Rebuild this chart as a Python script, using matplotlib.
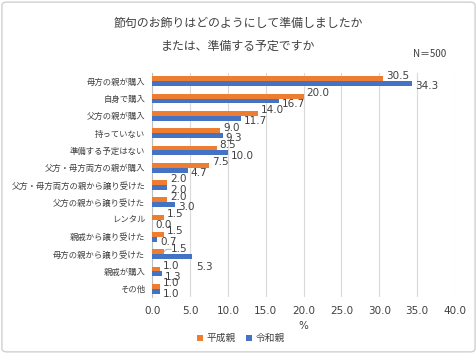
import matplotlib
matplotlib.use("Agg")
import matplotlib.pyplot as plt
import numpy as np
from matplotlib.patches import FancyBboxPatch

plt.rcParams["font.family"] = ["Noto Sans CJK JP", "DejaVu Sans"]

categories = [
    "母方の親が購入",
    "自身で購入",
    "父方の親が購入",
    "持っていない",
    "準備する予定はない",
    "父方・母方両方の親が購入",
    "父方・母方両方の親から譲り受けた",
    "父方の親から譲り受けた",
    "レンタル",
    "親戚から譲り受けた",
    "母方の親から譲り受けた",
    "親戚が購入",
    "その他",
]
heisei = [30.5, 20.0, 14.0, 9.0, 8.5, 7.5, 2.0, 2.0, 1.5, 1.5, 1.5, 1.0, 1.0]
reiwa = [34.3, 16.7, 11.7, 9.3, 10.0, 4.7, 2.0, 3.0, 0.0, 0.7, 5.3, 1.3, 1.0]
series_names = ["平成親", "令和親"]
x_ticks = [0, 5, 10, 15, 20, 25, 30, 35, 40]

ORANGE = "#ED7D31"
BLUE = "#4472C4"
TXT = "#404040"

fig = plt.figure(figsize=(4.77, 3.54), dpi=100)
fig.patches.append(FancyBboxPatch((0.004, 0.006), 0.992, 0.988, boxstyle="round,pad=0,rounding_size=0.01",
                                  transform=fig.transFigure, fill=False, edgecolor="#d0d0d0", linewidth=1))
ax = fig.add_axes([0.319, 0.16, 0.635, 0.635])

y = np.arange(len(categories))
h = 0.28
ax.barh(y - h / 2, heisei, height=h, color=ORANGE, label=series_names[0], zorder=3)
ax.barh(y + h / 2, reiwa, height=h, color=BLUE, label=series_names[1], zorder=3)

lab = dict(fontsize=7.5, color=TXT, family="DejaVu Sans", zorder=4, ha="left", va="center")
for i, (a, b) in enumerate(zip(heisei, reiwa)):
    if i == 10:
        # label moved right with a short leader line, blue label pushed below
        ax.text(a + 1.0, i - 0.28, f"{a:.1f}", **lab)
        ax.plot([a, a + 0.4, a + 1.0], [i - 0.12, i - 0.28, i - 0.28], color="#a6a6a6", lw=0.6, zorder=4)
        ax.text(b + 0.5, i + 0.75, f"{b:.1f}", **lab)
    else:
        ax.text(a + 0.4, i - 0.32, f"{a:.1f}", **lab)
        ax.text(b + 0.4, i + 0.3, f"{b:.1f}", **lab)

ax.set_ylim(len(categories) - 0.5, -0.5)
ax.set_xlim(0, 40)
ax.set_xticks(x_ticks)
ax.set_xticklabels([f"{v:.1f}" for v in x_ticks], family="DejaVu Sans")
ax.set_yticks(y)
ax.set_yticklabels(categories)
ax.tick_params(axis="y", length=0, labelsize=6, labelcolor=TXT, pad=5)
ax.tick_params(axis="x", length=0, labelsize=7.5, labelcolor=TXT, pad=6)
ax.grid(axis="x", color="#d9d9d9", linewidth=0.8, zorder=0)
for s in ["top", "right", "bottom"]:
    ax.spines[s].set_visible(False)
ax.spines["left"].set_color("#bfbfbf")
ax.set_xlabel("%", fontsize=7.5, color=TXT, labelpad=4, family="DejaVu Sans")

fig.text(0.5, 0.935, "節句のお飾りはどのようにして準備しましたか", ha="center", va="center",
         fontsize=8.6, color=TXT)
fig.text(0.5, 0.868, "または、準備する予定ですか", ha="center", va="center", fontsize=8.6, color=TXT)
fig.text(0.9, 0.848, "N＝500", ha="center", va="center", fontsize=7, color=TXT)

fig.legend(loc="center", bbox_to_anchor=(0.505, 0.045), ncol=2, frameon=False, fontsize=7,
           handlelength=0.6, handleheight=0.6, columnspacing=1.0, handletextpad=0.4,
           labelcolor=TXT)

fig.savefig("out.png", dpi=100)
